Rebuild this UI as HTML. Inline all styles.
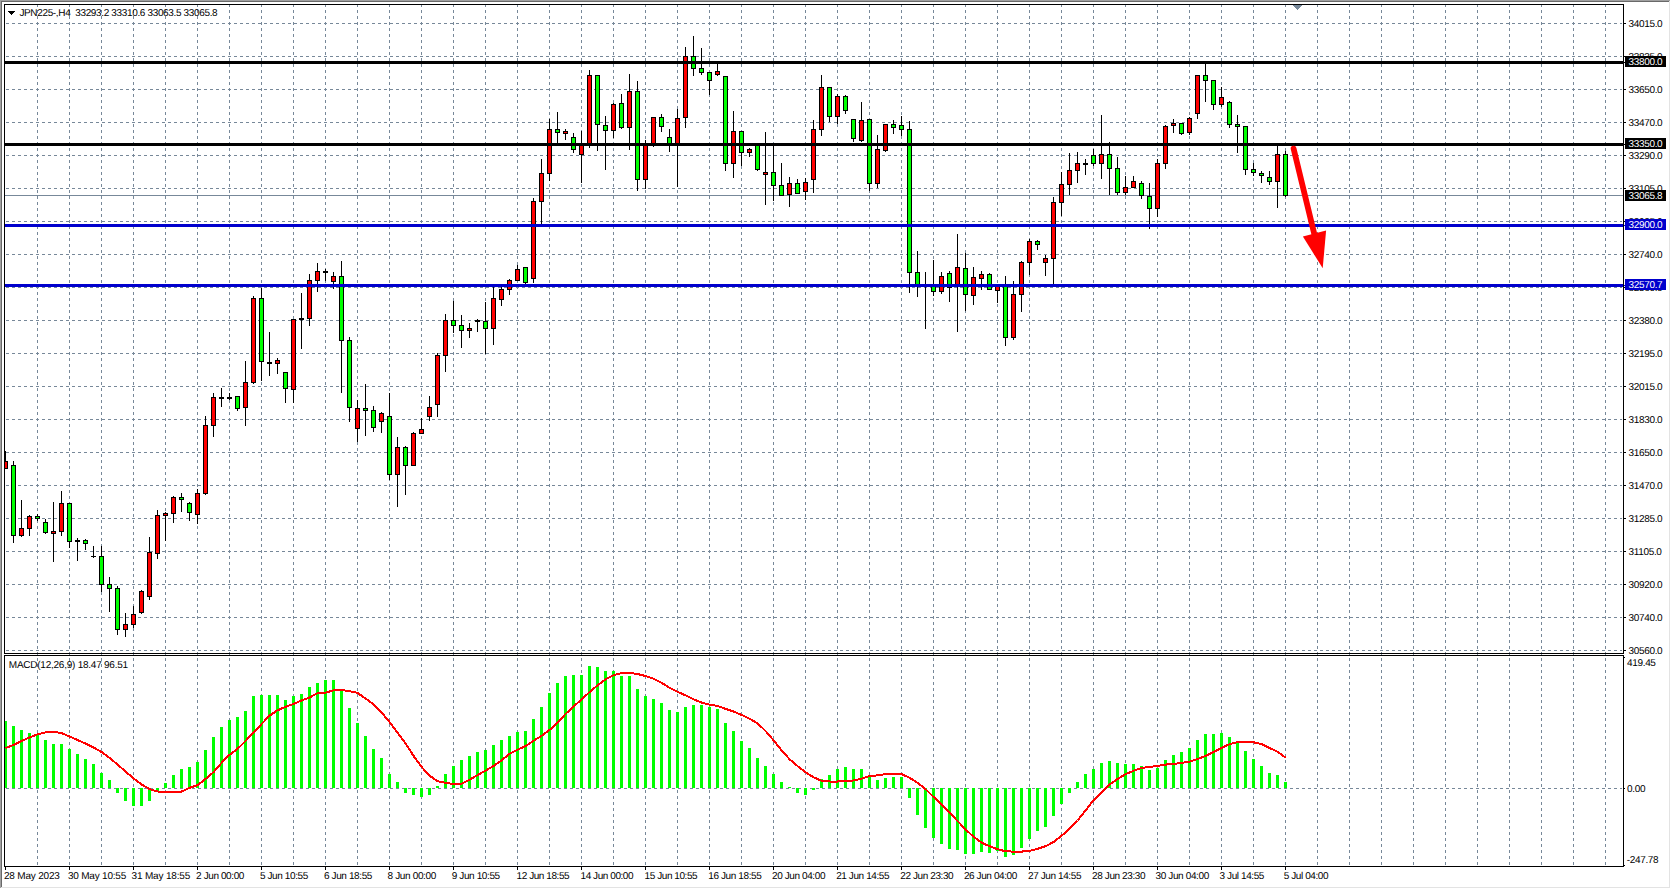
<!DOCTYPE html><html><head><meta charset="utf-8"><title>JPN225 H4</title>
<style>html,body{margin:0;padding:0;background:#fff;overflow:hidden}svg{display:block}text{font-family:"Liberation Sans",sans-serif;font-size:10px;letter-spacing:-0.35px;text-rendering:geometricPrecision}</style></head><body>
<svg width="1671" height="889" viewBox="0 0 1671 889">
<defs><clipPath id="cm"><rect x="5" y="5" width="1618" height="648"/></clipPath><clipPath id="cd"><rect x="5" y="656" width="1618" height="210"/></clipPath><clipPath id="cg"><rect x="5" y="5" width="1618" height="861"/></clipPath></defs>
<rect width="1671" height="889" fill="#fff"/>
<rect x="0" y="0" width="1670" height="1" fill="#a0a0a0"/>
<rect x="0" y="0" width="1" height="888" fill="#a0a0a0"/>
<rect x="1" y="1" width="1668" height="1" fill="#696969"/>
<rect x="1" y="1" width="1" height="886" fill="#696969"/>
<rect x="1669" y="1" width="1" height="887" fill="#e3e3e3"/>
<rect x="1" y="887" width="1669" height="1" fill="#e3e3e3"/>
<g clip-path="url(#cg)" shape-rendering="crispEdges" stroke="#778899" stroke-width="1" stroke-dasharray="3 3" fill="none">
<line x1="37.5" y1="4" x2="37.5" y2="866"/>
<line x1="69.5" y1="4" x2="69.5" y2="866"/>
<line x1="101.5" y1="4" x2="101.5" y2="866"/>
<line x1="133.5" y1="4" x2="133.5" y2="866"/>
<line x1="165.5" y1="4" x2="165.5" y2="866"/>
<line x1="197.5" y1="4" x2="197.5" y2="866"/>
<line x1="229.5" y1="4" x2="229.5" y2="866"/>
<line x1="261.5" y1="4" x2="261.5" y2="866"/>
<line x1="293.5" y1="4" x2="293.5" y2="866"/>
<line x1="325.5" y1="4" x2="325.5" y2="866"/>
<line x1="357.5" y1="4" x2="357.5" y2="866"/>
<line x1="389.5" y1="4" x2="389.5" y2="866"/>
<line x1="421.5" y1="4" x2="421.5" y2="866"/>
<line x1="453.5" y1="4" x2="453.5" y2="866"/>
<line x1="485.5" y1="4" x2="485.5" y2="866"/>
<line x1="517.5" y1="4" x2="517.5" y2="866"/>
<line x1="549.5" y1="4" x2="549.5" y2="866"/>
<line x1="581.5" y1="4" x2="581.5" y2="866"/>
<line x1="613.5" y1="4" x2="613.5" y2="866"/>
<line x1="645.5" y1="4" x2="645.5" y2="866"/>
<line x1="677.5" y1="4" x2="677.5" y2="866"/>
<line x1="709.5" y1="4" x2="709.5" y2="866"/>
<line x1="741.5" y1="4" x2="741.5" y2="866"/>
<line x1="773.5" y1="4" x2="773.5" y2="866"/>
<line x1="805.5" y1="4" x2="805.5" y2="866"/>
<line x1="837.5" y1="4" x2="837.5" y2="866"/>
<line x1="869.5" y1="4" x2="869.5" y2="866"/>
<line x1="901.5" y1="4" x2="901.5" y2="866"/>
<line x1="933.5" y1="4" x2="933.5" y2="866"/>
<line x1="965.5" y1="4" x2="965.5" y2="866"/>
<line x1="997.5" y1="4" x2="997.5" y2="866"/>
<line x1="1029.5" y1="4" x2="1029.5" y2="866"/>
<line x1="1061.5" y1="4" x2="1061.5" y2="866"/>
<line x1="1093.5" y1="4" x2="1093.5" y2="866"/>
<line x1="1125.5" y1="4" x2="1125.5" y2="866"/>
<line x1="1157.5" y1="4" x2="1157.5" y2="866"/>
<line x1="1189.5" y1="4" x2="1189.5" y2="866"/>
<line x1="1221.5" y1="4" x2="1221.5" y2="866"/>
<line x1="1253.5" y1="4" x2="1253.5" y2="866"/>
<line x1="1285.5" y1="4" x2="1285.5" y2="866"/>
<line x1="1317.5" y1="4" x2="1317.5" y2="866"/>
<line x1="1349.5" y1="4" x2="1349.5" y2="866"/>
<line x1="1381.5" y1="4" x2="1381.5" y2="866"/>
<line x1="1413.5" y1="4" x2="1413.5" y2="866"/>
<line x1="1445.5" y1="4" x2="1445.5" y2="866"/>
<line x1="1477.5" y1="4" x2="1477.5" y2="866"/>
<line x1="1509.5" y1="4" x2="1509.5" y2="866"/>
<line x1="1541.5" y1="4" x2="1541.5" y2="866"/>
<line x1="1573.5" y1="4" x2="1573.5" y2="866"/>
<line x1="1605.5" y1="4" x2="1605.5" y2="866"/>
<line x1="0" y1="23.5" x2="1622" y2="23.5"/>
<line x1="0" y1="56.5" x2="1622" y2="56.5"/>
<line x1="0" y1="89.5" x2="1622" y2="89.5"/>
<line x1="0" y1="122.5" x2="1622" y2="122.5"/>
<line x1="0" y1="155.5" x2="1622" y2="155.5"/>
<line x1="0" y1="188.5" x2="1622" y2="188.5"/>
<line x1="0" y1="221.5" x2="1622" y2="221.5"/>
<line x1="0" y1="254.5" x2="1622" y2="254.5"/>
<line x1="0" y1="287.5" x2="1622" y2="287.5"/>
<line x1="0" y1="320.5" x2="1622" y2="320.5"/>
<line x1="0" y1="353.5" x2="1622" y2="353.5"/>
<line x1="0" y1="386.5" x2="1622" y2="386.5"/>
<line x1="0" y1="419.5" x2="1622" y2="419.5"/>
<line x1="0" y1="452.5" x2="1622" y2="452.5"/>
<line x1="0" y1="485.5" x2="1622" y2="485.5"/>
<line x1="0" y1="518.5" x2="1622" y2="518.5"/>
<line x1="0" y1="551.5" x2="1622" y2="551.5"/>
<line x1="0" y1="584.5" x2="1622" y2="584.5"/>
<line x1="0" y1="617.5" x2="1622" y2="617.5"/>
<line x1="0" y1="650.5" x2="1622" y2="650.5"/>
<line x1="0" y1="788.5" x2="1622" y2="788.5"/>
</g>
<g clip-path="url(#cm)" shape-rendering="crispEdges">
<rect x="5" y="195" width="1618" height="1" fill="#778899"/>
<rect x="5" y="451" width="1" height="18" fill="#000"/>
<rect x="3" y="461" width="5" height="8" fill="#000"/>
<rect x="4" y="462" width="3" height="6" fill="#ff0000"/>
<rect x="13" y="461" width="1" height="82" fill="#000"/>
<rect x="11" y="465" width="5" height="71" fill="#000"/>
<rect x="12" y="466" width="3" height="69" fill="#00ff00"/>
<rect x="21" y="500" width="1" height="37" fill="#000"/>
<rect x="19" y="528" width="5" height="8" fill="#000"/>
<rect x="20" y="529" width="3" height="6" fill="#ff0000"/>
<rect x="29" y="515" width="1" height="21" fill="#000"/>
<rect x="27" y="516" width="5" height="13" fill="#000"/>
<rect x="28" y="517" width="3" height="11" fill="#ff0000"/>
<rect x="37" y="514" width="1" height="7" fill="#000"/>
<rect x="35" y="516" width="5" height="3" fill="#000"/>
<rect x="36" y="517" width="3" height="1" fill="#00ff00"/>
<rect x="45" y="519" width="1" height="15" fill="#000"/>
<rect x="43" y="522" width="5" height="11" fill="#000"/>
<rect x="44" y="523" width="3" height="9" fill="#00ff00"/>
<rect x="53" y="502" width="1" height="60" fill="#000"/>
<rect x="51" y="531" width="5" height="3" fill="#000"/>
<rect x="52" y="532" width="3" height="1" fill="#ff0000"/>
<rect x="61" y="491" width="1" height="45" fill="#000"/>
<rect x="59" y="503" width="5" height="29" fill="#000"/>
<rect x="60" y="504" width="3" height="27" fill="#ff0000"/>
<rect x="69" y="503" width="1" height="45" fill="#000"/>
<rect x="67" y="503" width="5" height="39" fill="#000"/>
<rect x="68" y="504" width="3" height="37" fill="#00ff00"/>
<rect x="77" y="538" width="1" height="23" fill="#000"/>
<rect x="75" y="540" width="5" height="2" fill="#000"/>
<rect x="85" y="539" width="1" height="11" fill="#000"/>
<rect x="83" y="540" width="5" height="4" fill="#000"/>
<rect x="84" y="541" width="3" height="2" fill="#00ff00"/>
<rect x="93" y="546" width="1" height="12" fill="#000"/>
<rect x="91" y="556" width="5" height="1" fill="#000"/>
<rect x="101" y="546" width="1" height="46" fill="#000"/>
<rect x="99" y="556" width="5" height="29" fill="#000"/>
<rect x="100" y="557" width="3" height="27" fill="#00ff00"/>
<rect x="109" y="577" width="1" height="35" fill="#000"/>
<rect x="107" y="584" width="5" height="5" fill="#000"/>
<rect x="108" y="585" width="3" height="3" fill="#00ff00"/>
<rect x="117" y="586" width="1" height="49" fill="#000"/>
<rect x="115" y="588" width="5" height="42" fill="#000"/>
<rect x="116" y="589" width="3" height="40" fill="#00ff00"/>
<rect x="125" y="613" width="1" height="24" fill="#000"/>
<rect x="123" y="624" width="5" height="6" fill="#000"/>
<rect x="124" y="625" width="3" height="4" fill="#ff0000"/>
<rect x="133" y="606" width="1" height="22" fill="#000"/>
<rect x="131" y="614" width="5" height="11" fill="#000"/>
<rect x="132" y="615" width="3" height="9" fill="#ff0000"/>
<rect x="141" y="590" width="1" height="24" fill="#000"/>
<rect x="139" y="591" width="5" height="22" fill="#000"/>
<rect x="140" y="592" width="3" height="20" fill="#ff0000"/>
<rect x="149" y="537" width="1" height="63" fill="#000"/>
<rect x="147" y="552" width="5" height="45" fill="#000"/>
<rect x="148" y="553" width="3" height="43" fill="#ff0000"/>
<rect x="157" y="510" width="1" height="49" fill="#000"/>
<rect x="155" y="515" width="5" height="39" fill="#000"/>
<rect x="156" y="516" width="3" height="37" fill="#ff0000"/>
<rect x="165" y="512" width="1" height="29" fill="#000"/>
<rect x="163" y="513" width="5" height="3" fill="#000"/>
<rect x="164" y="514" width="3" height="1" fill="#ff0000"/>
<rect x="173" y="496" width="1" height="27" fill="#000"/>
<rect x="171" y="497" width="5" height="17" fill="#000"/>
<rect x="172" y="498" width="3" height="15" fill="#ff0000"/>
<rect x="181" y="493" width="1" height="19" fill="#000"/>
<rect x="179" y="497" width="5" height="3" fill="#000"/>
<rect x="180" y="498" width="3" height="1" fill="#00ff00"/>
<rect x="189" y="502" width="1" height="19" fill="#000"/>
<rect x="187" y="503" width="5" height="10" fill="#000"/>
<rect x="188" y="504" width="3" height="8" fill="#00ff00"/>
<rect x="197" y="489" width="1" height="35" fill="#000"/>
<rect x="195" y="493" width="5" height="22" fill="#000"/>
<rect x="196" y="494" width="3" height="20" fill="#ff0000"/>
<rect x="205" y="416" width="1" height="79" fill="#000"/>
<rect x="203" y="425" width="5" height="69" fill="#000"/>
<rect x="204" y="426" width="3" height="67" fill="#ff0000"/>
<rect x="213" y="393" width="1" height="44" fill="#000"/>
<rect x="211" y="397" width="5" height="29" fill="#000"/>
<rect x="212" y="398" width="3" height="27" fill="#ff0000"/>
<rect x="221" y="388" width="1" height="19" fill="#000"/>
<rect x="219" y="397" width="5" height="2" fill="#000"/>
<rect x="229" y="393" width="1" height="7" fill="#000"/>
<rect x="227" y="397" width="5" height="2" fill="#000"/>
<rect x="237" y="396" width="1" height="15" fill="#000"/>
<rect x="235" y="396" width="5" height="13" fill="#000"/>
<rect x="236" y="397" width="3" height="11" fill="#00ff00"/>
<rect x="245" y="361" width="1" height="65" fill="#000"/>
<rect x="243" y="382" width="5" height="26" fill="#000"/>
<rect x="244" y="383" width="3" height="24" fill="#ff0000"/>
<rect x="253" y="296" width="1" height="88" fill="#000"/>
<rect x="251" y="298" width="5" height="85" fill="#000"/>
<rect x="252" y="299" width="3" height="83" fill="#ff0000"/>
<rect x="261" y="288" width="1" height="93" fill="#000"/>
<rect x="259" y="298" width="5" height="64" fill="#000"/>
<rect x="260" y="299" width="3" height="62" fill="#00ff00"/>
<rect x="269" y="332" width="1" height="44" fill="#000"/>
<rect x="267" y="362" width="5" height="2" fill="#000"/>
<rect x="277" y="358" width="1" height="16" fill="#000"/>
<rect x="275" y="360" width="5" height="4" fill="#000"/>
<rect x="276" y="361" width="3" height="2" fill="#ff0000"/>
<rect x="285" y="372" width="1" height="31" fill="#000"/>
<rect x="283" y="372" width="5" height="17" fill="#000"/>
<rect x="284" y="373" width="3" height="15" fill="#00ff00"/>
<rect x="293" y="319" width="1" height="84" fill="#000"/>
<rect x="291" y="319" width="5" height="71" fill="#000"/>
<rect x="292" y="320" width="3" height="69" fill="#ff0000"/>
<rect x="301" y="293" width="1" height="56" fill="#000"/>
<rect x="299" y="318" width="5" height="2" fill="#000"/>
<rect x="309" y="274" width="1" height="52" fill="#000"/>
<rect x="307" y="280" width="5" height="39" fill="#000"/>
<rect x="308" y="281" width="3" height="37" fill="#ff0000"/>
<rect x="317" y="263" width="1" height="29" fill="#000"/>
<rect x="315" y="271" width="5" height="10" fill="#000"/>
<rect x="316" y="272" width="3" height="8" fill="#ff0000"/>
<rect x="325" y="269" width="1" height="12" fill="#000"/>
<rect x="323" y="271" width="5" height="2" fill="#000"/>
<rect x="333" y="272" width="1" height="17" fill="#000"/>
<rect x="331" y="276" width="5" height="6" fill="#000"/>
<rect x="332" y="277" width="3" height="4" fill="#ff0000"/>
<rect x="341" y="261" width="1" height="132" fill="#000"/>
<rect x="339" y="276" width="5" height="65" fill="#000"/>
<rect x="340" y="277" width="3" height="63" fill="#00ff00"/>
<rect x="349" y="337" width="1" height="85" fill="#000"/>
<rect x="347" y="340" width="5" height="68" fill="#000"/>
<rect x="348" y="341" width="3" height="66" fill="#00ff00"/>
<rect x="357" y="400" width="1" height="42" fill="#000"/>
<rect x="355" y="408" width="5" height="21" fill="#000"/>
<rect x="356" y="409" width="3" height="19" fill="#ff0000"/>
<rect x="365" y="384" width="1" height="52" fill="#000"/>
<rect x="363" y="408" width="5" height="3" fill="#000"/>
<rect x="364" y="409" width="3" height="1" fill="#00ff00"/>
<rect x="373" y="406" width="1" height="26" fill="#000"/>
<rect x="371" y="410" width="5" height="18" fill="#000"/>
<rect x="372" y="411" width="3" height="16" fill="#00ff00"/>
<rect x="381" y="412" width="1" height="21" fill="#000"/>
<rect x="379" y="413" width="5" height="9" fill="#000"/>
<rect x="380" y="414" width="3" height="7" fill="#ff0000"/>
<rect x="389" y="393" width="1" height="87" fill="#000"/>
<rect x="387" y="416" width="5" height="59" fill="#000"/>
<rect x="388" y="417" width="3" height="57" fill="#00ff00"/>
<rect x="397" y="437" width="1" height="70" fill="#000"/>
<rect x="395" y="447" width="5" height="28" fill="#000"/>
<rect x="396" y="448" width="3" height="26" fill="#ff0000"/>
<rect x="405" y="446" width="1" height="49" fill="#000"/>
<rect x="403" y="447" width="5" height="19" fill="#000"/>
<rect x="404" y="448" width="3" height="17" fill="#00ff00"/>
<rect x="413" y="432" width="1" height="34" fill="#000"/>
<rect x="411" y="433" width="5" height="33" fill="#000"/>
<rect x="412" y="434" width="3" height="31" fill="#ff0000"/>
<rect x="421" y="418" width="1" height="16" fill="#000"/>
<rect x="419" y="429" width="5" height="5" fill="#000"/>
<rect x="420" y="430" width="3" height="3" fill="#ff0000"/>
<rect x="429" y="396" width="1" height="25" fill="#000"/>
<rect x="427" y="407" width="5" height="10" fill="#000"/>
<rect x="428" y="408" width="3" height="8" fill="#ff0000"/>
<rect x="437" y="353" width="1" height="64" fill="#000"/>
<rect x="435" y="355" width="5" height="50" fill="#000"/>
<rect x="436" y="356" width="3" height="48" fill="#ff0000"/>
<rect x="445" y="314" width="1" height="58" fill="#000"/>
<rect x="443" y="320" width="5" height="36" fill="#000"/>
<rect x="444" y="321" width="3" height="34" fill="#ff0000"/>
<rect x="453" y="301" width="1" height="32" fill="#000"/>
<rect x="451" y="320" width="5" height="6" fill="#000"/>
<rect x="452" y="321" width="3" height="4" fill="#00ff00"/>
<rect x="461" y="315" width="1" height="33" fill="#000"/>
<rect x="459" y="325" width="5" height="6" fill="#000"/>
<rect x="460" y="326" width="3" height="4" fill="#00ff00"/>
<rect x="469" y="323" width="1" height="15" fill="#000"/>
<rect x="467" y="328" width="5" height="3" fill="#000"/>
<rect x="468" y="329" width="3" height="1" fill="#ff0000"/>
<rect x="477" y="319" width="1" height="13" fill="#000"/>
<rect x="475" y="320" width="5" height="2" fill="#000"/>
<rect x="485" y="302" width="1" height="52" fill="#000"/>
<rect x="483" y="321" width="5" height="8" fill="#000"/>
<rect x="484" y="322" width="3" height="6" fill="#00ff00"/>
<rect x="493" y="286" width="1" height="59" fill="#000"/>
<rect x="491" y="298" width="5" height="31" fill="#000"/>
<rect x="492" y="299" width="3" height="29" fill="#ff0000"/>
<rect x="501" y="286" width="1" height="20" fill="#000"/>
<rect x="499" y="289" width="5" height="11" fill="#000"/>
<rect x="500" y="290" width="3" height="9" fill="#ff0000"/>
<rect x="509" y="279" width="1" height="16" fill="#000"/>
<rect x="507" y="280" width="5" height="10" fill="#000"/>
<rect x="508" y="281" width="3" height="8" fill="#ff0000"/>
<rect x="517" y="265" width="1" height="16" fill="#000"/>
<rect x="515" y="269" width="5" height="12" fill="#000"/>
<rect x="516" y="270" width="3" height="10" fill="#ff0000"/>
<rect x="525" y="267" width="1" height="17" fill="#000"/>
<rect x="523" y="267" width="5" height="16" fill="#000"/>
<rect x="524" y="268" width="3" height="14" fill="#00ff00"/>
<rect x="533" y="198" width="1" height="85" fill="#000"/>
<rect x="531" y="201" width="5" height="78" fill="#000"/>
<rect x="532" y="202" width="3" height="76" fill="#ff0000"/>
<rect x="541" y="159" width="1" height="65" fill="#000"/>
<rect x="539" y="173" width="5" height="29" fill="#000"/>
<rect x="540" y="174" width="3" height="27" fill="#ff0000"/>
<rect x="549" y="119" width="1" height="62" fill="#000"/>
<rect x="547" y="129" width="5" height="45" fill="#000"/>
<rect x="548" y="130" width="3" height="43" fill="#ff0000"/>
<rect x="557" y="112" width="1" height="31" fill="#000"/>
<rect x="555" y="129" width="5" height="4" fill="#000"/>
<rect x="556" y="130" width="3" height="2" fill="#00ff00"/>
<rect x="565" y="129" width="1" height="11" fill="#000"/>
<rect x="563" y="131" width="5" height="3" fill="#000"/>
<rect x="564" y="132" width="3" height="1" fill="#ff0000"/>
<rect x="573" y="133" width="1" height="20" fill="#000"/>
<rect x="571" y="137" width="5" height="13" fill="#000"/>
<rect x="572" y="138" width="3" height="11" fill="#00ff00"/>
<rect x="581" y="131" width="1" height="52" fill="#000"/>
<rect x="579" y="145" width="5" height="10" fill="#000"/>
<rect x="580" y="146" width="3" height="8" fill="#ff0000"/>
<rect x="589" y="70" width="1" height="78" fill="#000"/>
<rect x="587" y="75" width="5" height="69" fill="#000"/>
<rect x="588" y="76" width="3" height="67" fill="#ff0000"/>
<rect x="597" y="75" width="1" height="76" fill="#000"/>
<rect x="595" y="75" width="5" height="50" fill="#000"/>
<rect x="596" y="76" width="3" height="48" fill="#00ff00"/>
<rect x="605" y="116" width="1" height="54" fill="#000"/>
<rect x="603" y="125" width="5" height="6" fill="#000"/>
<rect x="604" y="126" width="3" height="4" fill="#00ff00"/>
<rect x="613" y="103" width="1" height="35" fill="#000"/>
<rect x="611" y="104" width="5" height="27" fill="#000"/>
<rect x="612" y="105" width="3" height="25" fill="#ff0000"/>
<rect x="621" y="94" width="1" height="35" fill="#000"/>
<rect x="619" y="103" width="5" height="25" fill="#000"/>
<rect x="620" y="104" width="3" height="23" fill="#00ff00"/>
<rect x="629" y="74" width="1" height="76" fill="#000"/>
<rect x="627" y="91" width="5" height="37" fill="#000"/>
<rect x="628" y="92" width="3" height="35" fill="#ff0000"/>
<rect x="637" y="81" width="1" height="110" fill="#000"/>
<rect x="635" y="91" width="5" height="89" fill="#000"/>
<rect x="636" y="92" width="3" height="87" fill="#00ff00"/>
<rect x="645" y="140" width="1" height="49" fill="#000"/>
<rect x="643" y="145" width="5" height="35" fill="#000"/>
<rect x="644" y="146" width="3" height="33" fill="#ff0000"/>
<rect x="653" y="117" width="1" height="30" fill="#000"/>
<rect x="651" y="117" width="5" height="28" fill="#000"/>
<rect x="652" y="118" width="3" height="26" fill="#ff0000"/>
<rect x="661" y="114" width="1" height="18" fill="#000"/>
<rect x="659" y="117" width="5" height="10" fill="#000"/>
<rect x="660" y="118" width="3" height="8" fill="#00ff00"/>
<rect x="669" y="129" width="1" height="23" fill="#000"/>
<rect x="667" y="137" width="5" height="7" fill="#000"/>
<rect x="668" y="138" width="3" height="5" fill="#00ff00"/>
<rect x="677" y="109" width="1" height="78" fill="#000"/>
<rect x="675" y="118" width="5" height="26" fill="#000"/>
<rect x="676" y="119" width="3" height="24" fill="#ff0000"/>
<rect x="685" y="47" width="1" height="81" fill="#000"/>
<rect x="683" y="56" width="5" height="62" fill="#000"/>
<rect x="684" y="57" width="3" height="60" fill="#ff0000"/>
<rect x="693" y="36" width="1" height="40" fill="#000"/>
<rect x="691" y="56" width="5" height="13" fill="#000"/>
<rect x="692" y="57" width="3" height="11" fill="#00ff00"/>
<rect x="701" y="48" width="1" height="27" fill="#000"/>
<rect x="699" y="68" width="5" height="5" fill="#000"/>
<rect x="700" y="69" width="3" height="3" fill="#00ff00"/>
<rect x="709" y="72" width="1" height="23" fill="#000"/>
<rect x="707" y="72" width="5" height="9" fill="#000"/>
<rect x="708" y="73" width="3" height="7" fill="#00ff00"/>
<rect x="717" y="64" width="1" height="12" fill="#000"/>
<rect x="715" y="71" width="5" height="4" fill="#000"/>
<rect x="716" y="72" width="3" height="2" fill="#ff0000"/>
<rect x="725" y="76" width="1" height="95" fill="#000"/>
<rect x="723" y="76" width="5" height="88" fill="#000"/>
<rect x="724" y="77" width="3" height="86" fill="#00ff00"/>
<rect x="733" y="111" width="1" height="67" fill="#000"/>
<rect x="731" y="131" width="5" height="33" fill="#000"/>
<rect x="732" y="132" width="3" height="31" fill="#ff0000"/>
<rect x="741" y="131" width="1" height="35" fill="#000"/>
<rect x="739" y="131" width="5" height="22" fill="#000"/>
<rect x="740" y="132" width="3" height="20" fill="#00ff00"/>
<rect x="749" y="148" width="1" height="9" fill="#000"/>
<rect x="747" y="149" width="5" height="4" fill="#000"/>
<rect x="748" y="150" width="3" height="2" fill="#ff0000"/>
<rect x="757" y="144" width="1" height="27" fill="#000"/>
<rect x="755" y="145" width="5" height="25" fill="#000"/>
<rect x="756" y="146" width="3" height="23" fill="#00ff00"/>
<rect x="765" y="132" width="1" height="73" fill="#000"/>
<rect x="763" y="172" width="5" height="3" fill="#000"/>
<rect x="764" y="173" width="3" height="1" fill="#ff0000"/>
<rect x="773" y="146" width="1" height="55" fill="#000"/>
<rect x="771" y="172" width="5" height="14" fill="#000"/>
<rect x="772" y="173" width="3" height="12" fill="#00ff00"/>
<rect x="781" y="163" width="1" height="33" fill="#000"/>
<rect x="779" y="185" width="5" height="11" fill="#000"/>
<rect x="780" y="186" width="3" height="9" fill="#00ff00"/>
<rect x="789" y="177" width="1" height="30" fill="#000"/>
<rect x="787" y="183" width="5" height="12" fill="#000"/>
<rect x="788" y="184" width="3" height="10" fill="#ff0000"/>
<rect x="797" y="179" width="1" height="15" fill="#000"/>
<rect x="795" y="183" width="5" height="11" fill="#000"/>
<rect x="796" y="184" width="3" height="9" fill="#00ff00"/>
<rect x="805" y="178" width="1" height="22" fill="#000"/>
<rect x="803" y="182" width="5" height="10" fill="#000"/>
<rect x="804" y="183" width="3" height="8" fill="#ff0000"/>
<rect x="813" y="120" width="1" height="73" fill="#000"/>
<rect x="811" y="129" width="5" height="51" fill="#000"/>
<rect x="812" y="130" width="3" height="49" fill="#ff0000"/>
<rect x="821" y="75" width="1" height="61" fill="#000"/>
<rect x="819" y="87" width="5" height="43" fill="#000"/>
<rect x="820" y="88" width="3" height="41" fill="#ff0000"/>
<rect x="829" y="87" width="1" height="35" fill="#000"/>
<rect x="827" y="87" width="5" height="30" fill="#000"/>
<rect x="828" y="88" width="3" height="28" fill="#00ff00"/>
<rect x="837" y="94" width="1" height="30" fill="#000"/>
<rect x="835" y="96" width="5" height="21" fill="#000"/>
<rect x="836" y="97" width="3" height="19" fill="#ff0000"/>
<rect x="845" y="95" width="1" height="19" fill="#000"/>
<rect x="843" y="96" width="5" height="15" fill="#000"/>
<rect x="844" y="97" width="3" height="13" fill="#00ff00"/>
<rect x="853" y="119" width="1" height="23" fill="#000"/>
<rect x="851" y="119" width="5" height="20" fill="#000"/>
<rect x="852" y="120" width="3" height="18" fill="#00ff00"/>
<rect x="861" y="102" width="1" height="40" fill="#000"/>
<rect x="859" y="120" width="5" height="21" fill="#000"/>
<rect x="860" y="121" width="3" height="19" fill="#ff0000"/>
<rect x="869" y="119" width="1" height="72" fill="#000"/>
<rect x="867" y="119" width="5" height="65" fill="#000"/>
<rect x="868" y="120" width="3" height="63" fill="#00ff00"/>
<rect x="877" y="135" width="1" height="53" fill="#000"/>
<rect x="875" y="149" width="5" height="35" fill="#000"/>
<rect x="876" y="150" width="3" height="33" fill="#ff0000"/>
<rect x="885" y="124" width="1" height="28" fill="#000"/>
<rect x="883" y="124" width="5" height="27" fill="#000"/>
<rect x="884" y="125" width="3" height="25" fill="#ff0000"/>
<rect x="893" y="120" width="1" height="14" fill="#000"/>
<rect x="891" y="124" width="5" height="4" fill="#000"/>
<rect x="892" y="125" width="3" height="2" fill="#00ff00"/>
<rect x="901" y="116" width="1" height="20" fill="#000"/>
<rect x="899" y="125" width="5" height="5" fill="#000"/>
<rect x="900" y="126" width="3" height="3" fill="#00ff00"/>
<rect x="909" y="121" width="1" height="172" fill="#000"/>
<rect x="907" y="129" width="5" height="144" fill="#000"/>
<rect x="908" y="130" width="3" height="142" fill="#00ff00"/>
<rect x="917" y="251" width="1" height="46" fill="#000"/>
<rect x="915" y="272" width="5" height="14" fill="#000"/>
<rect x="916" y="273" width="3" height="12" fill="#00ff00"/>
<rect x="925" y="272" width="1" height="57" fill="#000"/>
<rect x="923" y="285" width="5" height="2" fill="#000"/>
<rect x="933" y="260" width="1" height="36" fill="#000"/>
<rect x="931" y="285" width="5" height="7" fill="#000"/>
<rect x="932" y="286" width="3" height="5" fill="#00ff00"/>
<rect x="941" y="272" width="1" height="22" fill="#000"/>
<rect x="939" y="276" width="5" height="16" fill="#000"/>
<rect x="940" y="277" width="3" height="14" fill="#ff0000"/>
<rect x="949" y="271" width="1" height="31" fill="#000"/>
<rect x="947" y="273" width="5" height="15" fill="#000"/>
<rect x="948" y="274" width="3" height="13" fill="#00ff00"/>
<rect x="957" y="234" width="1" height="98" fill="#000"/>
<rect x="955" y="267" width="5" height="19" fill="#000"/>
<rect x="956" y="268" width="3" height="17" fill="#ff0000"/>
<rect x="965" y="253" width="1" height="58" fill="#000"/>
<rect x="963" y="268" width="5" height="27" fill="#000"/>
<rect x="964" y="269" width="3" height="25" fill="#00ff00"/>
<rect x="973" y="267" width="1" height="38" fill="#000"/>
<rect x="971" y="277" width="5" height="19" fill="#000"/>
<rect x="972" y="278" width="3" height="17" fill="#ff0000"/>
<rect x="981" y="271" width="1" height="19" fill="#000"/>
<rect x="979" y="274" width="5" height="5" fill="#000"/>
<rect x="980" y="275" width="3" height="3" fill="#ff0000"/>
<rect x="989" y="273" width="1" height="17" fill="#000"/>
<rect x="987" y="274" width="5" height="16" fill="#000"/>
<rect x="988" y="275" width="3" height="14" fill="#00ff00"/>
<rect x="997" y="284" width="1" height="19" fill="#000"/>
<rect x="995" y="286" width="5" height="5" fill="#000"/>
<rect x="996" y="287" width="3" height="3" fill="#ff0000"/>
<rect x="1005" y="276" width="1" height="70" fill="#000"/>
<rect x="1003" y="285" width="5" height="53" fill="#000"/>
<rect x="1004" y="286" width="3" height="51" fill="#00ff00"/>
<rect x="1013" y="281" width="1" height="59" fill="#000"/>
<rect x="1011" y="294" width="5" height="44" fill="#000"/>
<rect x="1012" y="295" width="3" height="42" fill="#ff0000"/>
<rect x="1021" y="261" width="1" height="51" fill="#000"/>
<rect x="1019" y="262" width="5" height="33" fill="#000"/>
<rect x="1020" y="263" width="3" height="31" fill="#ff0000"/>
<rect x="1029" y="239" width="1" height="36" fill="#000"/>
<rect x="1027" y="241" width="5" height="22" fill="#000"/>
<rect x="1028" y="242" width="3" height="20" fill="#ff0000"/>
<rect x="1037" y="240" width="1" height="10" fill="#000"/>
<rect x="1035" y="241" width="5" height="4" fill="#000"/>
<rect x="1036" y="242" width="3" height="2" fill="#00ff00"/>
<rect x="1045" y="255" width="1" height="21" fill="#000"/>
<rect x="1043" y="258" width="5" height="5" fill="#000"/>
<rect x="1044" y="259" width="3" height="3" fill="#ff0000"/>
<rect x="1053" y="197" width="1" height="87" fill="#000"/>
<rect x="1051" y="202" width="5" height="57" fill="#000"/>
<rect x="1052" y="203" width="3" height="55" fill="#ff0000"/>
<rect x="1061" y="172" width="1" height="44" fill="#000"/>
<rect x="1059" y="184" width="5" height="19" fill="#000"/>
<rect x="1060" y="185" width="3" height="17" fill="#ff0000"/>
<rect x="1069" y="153" width="1" height="42" fill="#000"/>
<rect x="1067" y="170" width="5" height="15" fill="#000"/>
<rect x="1068" y="171" width="3" height="13" fill="#ff0000"/>
<rect x="1077" y="152" width="1" height="31" fill="#000"/>
<rect x="1075" y="163" width="5" height="8" fill="#000"/>
<rect x="1076" y="164" width="3" height="6" fill="#ff0000"/>
<rect x="1085" y="159" width="1" height="16" fill="#000"/>
<rect x="1083" y="163" width="5" height="2" fill="#000"/>
<rect x="1093" y="149" width="1" height="17" fill="#000"/>
<rect x="1091" y="155" width="5" height="9" fill="#000"/>
<rect x="1092" y="156" width="3" height="7" fill="#00ff00"/>
<rect x="1101" y="115" width="1" height="64" fill="#000"/>
<rect x="1099" y="154" width="5" height="10" fill="#000"/>
<rect x="1100" y="155" width="3" height="8" fill="#ff0000"/>
<rect x="1109" y="142" width="1" height="53" fill="#000"/>
<rect x="1107" y="154" width="5" height="15" fill="#000"/>
<rect x="1108" y="155" width="3" height="13" fill="#00ff00"/>
<rect x="1117" y="157" width="1" height="38" fill="#000"/>
<rect x="1115" y="168" width="5" height="25" fill="#000"/>
<rect x="1116" y="169" width="3" height="23" fill="#00ff00"/>
<rect x="1125" y="176" width="1" height="19" fill="#000"/>
<rect x="1123" y="187" width="5" height="6" fill="#000"/>
<rect x="1124" y="188" width="3" height="4" fill="#ff0000"/>
<rect x="1133" y="176" width="1" height="12" fill="#000"/>
<rect x="1131" y="181" width="5" height="7" fill="#000"/>
<rect x="1132" y="182" width="3" height="5" fill="#ff0000"/>
<rect x="1141" y="181" width="1" height="18" fill="#000"/>
<rect x="1139" y="183" width="5" height="13" fill="#000"/>
<rect x="1140" y="184" width="3" height="11" fill="#00ff00"/>
<rect x="1149" y="183" width="1" height="46" fill="#000"/>
<rect x="1147" y="196" width="5" height="13" fill="#000"/>
<rect x="1148" y="197" width="3" height="11" fill="#00ff00"/>
<rect x="1157" y="159" width="1" height="58" fill="#000"/>
<rect x="1155" y="163" width="5" height="46" fill="#000"/>
<rect x="1156" y="164" width="3" height="44" fill="#ff0000"/>
<rect x="1165" y="125" width="1" height="44" fill="#000"/>
<rect x="1163" y="126" width="5" height="38" fill="#000"/>
<rect x="1164" y="127" width="3" height="36" fill="#ff0000"/>
<rect x="1173" y="119" width="1" height="14" fill="#000"/>
<rect x="1171" y="123" width="5" height="3" fill="#000"/>
<rect x="1172" y="124" width="3" height="1" fill="#ff0000"/>
<rect x="1181" y="123" width="1" height="12" fill="#000"/>
<rect x="1179" y="123" width="5" height="11" fill="#000"/>
<rect x="1180" y="124" width="3" height="9" fill="#00ff00"/>
<rect x="1189" y="117" width="1" height="18" fill="#000"/>
<rect x="1187" y="118" width="5" height="15" fill="#000"/>
<rect x="1188" y="119" width="3" height="13" fill="#ff0000"/>
<rect x="1197" y="75" width="1" height="44" fill="#000"/>
<rect x="1195" y="75" width="5" height="39" fill="#000"/>
<rect x="1196" y="76" width="3" height="37" fill="#ff0000"/>
<rect x="1205" y="64" width="1" height="38" fill="#000"/>
<rect x="1203" y="75" width="5" height="6" fill="#000"/>
<rect x="1204" y="76" width="3" height="4" fill="#00ff00"/>
<rect x="1213" y="80" width="1" height="30" fill="#000"/>
<rect x="1211" y="80" width="5" height="25" fill="#000"/>
<rect x="1212" y="81" width="3" height="23" fill="#00ff00"/>
<rect x="1221" y="87" width="1" height="20" fill="#000"/>
<rect x="1219" y="97" width="5" height="8" fill="#000"/>
<rect x="1220" y="98" width="3" height="6" fill="#ff0000"/>
<rect x="1229" y="101" width="1" height="27" fill="#000"/>
<rect x="1227" y="102" width="5" height="23" fill="#000"/>
<rect x="1228" y="103" width="3" height="21" fill="#00ff00"/>
<rect x="1237" y="115" width="1" height="38" fill="#000"/>
<rect x="1235" y="124" width="5" height="3" fill="#000"/>
<rect x="1236" y="125" width="3" height="1" fill="#00ff00"/>
<rect x="1245" y="126" width="1" height="49" fill="#000"/>
<rect x="1243" y="126" width="5" height="44" fill="#000"/>
<rect x="1244" y="127" width="3" height="42" fill="#00ff00"/>
<rect x="1253" y="163" width="1" height="13" fill="#000"/>
<rect x="1251" y="169" width="5" height="4" fill="#000"/>
<rect x="1252" y="170" width="3" height="2" fill="#00ff00"/>
<rect x="1261" y="171" width="1" height="12" fill="#000"/>
<rect x="1259" y="173" width="5" height="3" fill="#000"/>
<rect x="1260" y="174" width="3" height="1" fill="#00ff00"/>
<rect x="1269" y="171" width="1" height="14" fill="#000"/>
<rect x="1267" y="177" width="5" height="5" fill="#000"/>
<rect x="1268" y="178" width="3" height="3" fill="#00ff00"/>
<rect x="1277" y="146" width="1" height="62" fill="#000"/>
<rect x="1275" y="154" width="5" height="28" fill="#000"/>
<rect x="1276" y="155" width="3" height="26" fill="#ff0000"/>
<rect x="1285" y="151" width="1" height="46" fill="#000"/>
<rect x="1283" y="154" width="5" height="42" fill="#000"/>
<rect x="1284" y="155" width="3" height="40" fill="#00ff00"/>
<rect x="5" y="61" width="1618" height="3" fill="#000"/>
<rect x="5" y="143" width="1618" height="3" fill="#000"/>
<rect x="5" y="224" width="1618" height="3" fill="#0000cd"/>
<rect x="5" y="284" width="1618" height="3" fill="#0000cd"/>
</g>
<g fill="#ff0000" stroke="none">
<line x1="1293.6" y1="148.6" x2="1314.4" y2="234.5" stroke="#ff0000" stroke-width="5.8" stroke-linecap="round"/>
<polygon points="1302.9,236.6 1326.1,230.6 1322.7,268.2"/>
</g>
<g clip-path="url(#cd)" shape-rendering="crispEdges" fill="#00ff00">
<rect x="4" y="721" width="3" height="67"/>
<rect x="12" y="726" width="3" height="62"/>
<rect x="20" y="730" width="3" height="58"/>
<rect x="28" y="733" width="3" height="55"/>
<rect x="36" y="735" width="3" height="53"/>
<rect x="44" y="740" width="3" height="48"/>
<rect x="52" y="744" width="3" height="44"/>
<rect x="60" y="744" width="3" height="44"/>
<rect x="68" y="749" width="3" height="39"/>
<rect x="76" y="754" width="3" height="34"/>
<rect x="84" y="759" width="3" height="29"/>
<rect x="92" y="764" width="3" height="24"/>
<rect x="100" y="773" width="3" height="15"/>
<rect x="108" y="780" width="3" height="8"/>
<rect x="116" y="788" width="3" height="5"/>
<rect x="124" y="788" width="3" height="13"/>
<rect x="132" y="788" width="3" height="18"/>
<rect x="140" y="788" width="3" height="18"/>
<rect x="148" y="788" width="3" height="13"/>
<rect x="156" y="788" width="3" height="4"/>
<rect x="164" y="783" width="3" height="5"/>
<rect x="172" y="775" width="3" height="13"/>
<rect x="180" y="769" width="3" height="19"/>
<rect x="188" y="767" width="3" height="21"/>
<rect x="196" y="762" width="3" height="26"/>
<rect x="204" y="750" width="3" height="38"/>
<rect x="212" y="737" width="3" height="51"/>
<rect x="220" y="727" width="3" height="61"/>
<rect x="228" y="720" width="3" height="68"/>
<rect x="236" y="717" width="3" height="71"/>
<rect x="244" y="711" width="3" height="77"/>
<rect x="252" y="696" width="3" height="92"/>
<rect x="260" y="695" width="3" height="93"/>
<rect x="268" y="695" width="3" height="93"/>
<rect x="276" y="695" width="3" height="93"/>
<rect x="284" y="700" width="3" height="88"/>
<rect x="292" y="696" width="3" height="92"/>
<rect x="300" y="694" width="3" height="94"/>
<rect x="308" y="687" width="3" height="101"/>
<rect x="316" y="683" width="3" height="105"/>
<rect x="324" y="680" width="3" height="108"/>
<rect x="332" y="680" width="3" height="108"/>
<rect x="340" y="689" width="3" height="99"/>
<rect x="348" y="708" width="3" height="80"/>
<rect x="356" y="723" width="3" height="65"/>
<rect x="364" y="736" width="3" height="52"/>
<rect x="372" y="749" width="3" height="39"/>
<rect x="380" y="758" width="3" height="30"/>
<rect x="388" y="774" width="3" height="14"/>
<rect x="396" y="782" width="3" height="6"/>
<rect x="404" y="788" width="3" height="5"/>
<rect x="412" y="788" width="3" height="7"/>
<rect x="420" y="788" width="3" height="9"/>
<rect x="428" y="788" width="3" height="7"/>
<rect x="436" y="786" width="3" height="2"/>
<rect x="444" y="774" width="3" height="14"/>
<rect x="452" y="766" width="3" height="22"/>
<rect x="460" y="760" width="3" height="28"/>
<rect x="468" y="756" width="3" height="32"/>
<rect x="476" y="752" width="3" height="36"/>
<rect x="484" y="750" width="3" height="38"/>
<rect x="492" y="745" width="3" height="43"/>
<rect x="500" y="740" width="3" height="48"/>
<rect x="508" y="736" width="3" height="52"/>
<rect x="516" y="732" width="3" height="56"/>
<rect x="524" y="731" width="3" height="57"/>
<rect x="532" y="719" width="3" height="69"/>
<rect x="540" y="707" width="3" height="81"/>
<rect x="548" y="693" width="3" height="95"/>
<rect x="556" y="683" width="3" height="105"/>
<rect x="564" y="676" width="3" height="112"/>
<rect x="572" y="675" width="3" height="113"/>
<rect x="580" y="675" width="3" height="113"/>
<rect x="588" y="666" width="3" height="122"/>
<rect x="596" y="667" width="3" height="121"/>
<rect x="604" y="671" width="3" height="117"/>
<rect x="612" y="671" width="3" height="117"/>
<rect x="620" y="676" width="3" height="112"/>
<rect x="628" y="676" width="3" height="112"/>
<rect x="636" y="689" width="3" height="99"/>
<rect x="644" y="696" width="3" height="92"/>
<rect x="652" y="699" width="3" height="89"/>
<rect x="660" y="703" width="3" height="85"/>
<rect x="668" y="710" width="3" height="78"/>
<rect x="676" y="712" width="3" height="76"/>
<rect x="684" y="707" width="3" height="81"/>
<rect x="692" y="705" width="3" height="83"/>
<rect x="700" y="705" width="3" height="83"/>
<rect x="708" y="707" width="3" height="81"/>
<rect x="716" y="709" width="3" height="79"/>
<rect x="724" y="723" width="3" height="65"/>
<rect x="732" y="731" width="3" height="57"/>
<rect x="740" y="741" width="3" height="47"/>
<rect x="748" y="748" width="3" height="40"/>
<rect x="756" y="758" width="3" height="30"/>
<rect x="764" y="766" width="3" height="22"/>
<rect x="772" y="774" width="3" height="14"/>
<rect x="780" y="782" width="3" height="6"/>
<rect x="788" y="787" width="3" height="1"/>
<rect x="796" y="788" width="3" height="5"/>
<rect x="804" y="788" width="3" height="7"/>
<rect x="812" y="788" width="3" height="2"/>
<rect x="820" y="779" width="3" height="9"/>
<rect x="828" y="775" width="3" height="13"/>
<rect x="836" y="769" width="3" height="19"/>
<rect x="844" y="767" width="3" height="21"/>
<rect x="852" y="769" width="3" height="19"/>
<rect x="860" y="769" width="3" height="19"/>
<rect x="868" y="777" width="3" height="11"/>
<rect x="876" y="780" width="3" height="8"/>
<rect x="884" y="778" width="3" height="10"/>
<rect x="892" y="777" width="3" height="11"/>
<rect x="900" y="777" width="3" height="11"/>
<rect x="908" y="788" width="3" height="10"/>
<rect x="916" y="788" width="3" height="27"/>
<rect x="924" y="788" width="3" height="40"/>
<rect x="932" y="788" width="3" height="50"/>
<rect x="940" y="788" width="3" height="56"/>
<rect x="948" y="788" width="3" height="61"/>
<rect x="956" y="788" width="3" height="62"/>
<rect x="964" y="788" width="3" height="66"/>
<rect x="972" y="788" width="3" height="66"/>
<rect x="980" y="788" width="3" height="64"/>
<rect x="988" y="788" width="3" height="65"/>
<rect x="996" y="788" width="3" height="63"/>
<rect x="1004" y="788" width="3" height="69"/>
<rect x="1012" y="788" width="3" height="67"/>
<rect x="1020" y="788" width="3" height="60"/>
<rect x="1028" y="788" width="3" height="51"/>
<rect x="1036" y="788" width="3" height="43"/>
<rect x="1044" y="788" width="3" height="39"/>
<rect x="1052" y="788" width="3" height="28"/>
<rect x="1060" y="788" width="3" height="16"/>
<rect x="1068" y="788" width="3" height="5"/>
<rect x="1076" y="782" width="3" height="6"/>
<rect x="1084" y="774" width="3" height="14"/>
<rect x="1092" y="769" width="3" height="19"/>
<rect x="1100" y="763" width="3" height="25"/>
<rect x="1108" y="761" width="3" height="27"/>
<rect x="1116" y="763" width="3" height="25"/>
<rect x="1124" y="764" width="3" height="24"/>
<rect x="1132" y="764" width="3" height="24"/>
<rect x="1140" y="766" width="3" height="22"/>
<rect x="1148" y="770" width="3" height="18"/>
<rect x="1156" y="768" width="3" height="20"/>
<rect x="1164" y="760" width="3" height="28"/>
<rect x="1172" y="755" width="3" height="33"/>
<rect x="1180" y="752" width="3" height="36"/>
<rect x="1188" y="748" width="3" height="40"/>
<rect x="1196" y="740" width="3" height="48"/>
<rect x="1204" y="734" width="3" height="54"/>
<rect x="1212" y="734" width="3" height="54"/>
<rect x="1220" y="733" width="3" height="55"/>
<rect x="1228" y="737" width="3" height="51"/>
<rect x="1236" y="741" width="3" height="47"/>
<rect x="1244" y="751" width="3" height="37"/>
<rect x="1252" y="759" width="3" height="29"/>
<rect x="1260" y="766" width="3" height="22"/>
<rect x="1268" y="773" width="3" height="15"/>
<rect x="1276" y="775" width="3" height="13"/>
<rect x="1284" y="782" width="3" height="6"/>
</g>
<g clip-path="url(#cd)"><polyline points="5.5,748.0 13.5,745.0 21.5,741.0 29.5,737.5 37.5,734.4 45.5,732.4 53.5,732.0 61.5,733.0 69.5,736.5 77.5,740.0 85.5,743.5 93.5,747.5 101.5,752.0 109.5,757.8 117.5,764.5 125.5,771.6 133.5,778.3 141.5,784.4 149.5,789.1 157.5,791.5 165.5,791.8 173.5,792.0 181.5,791.6 189.5,787.9 197.5,785.2 205.5,779.0 213.5,772.2 221.5,762.9 229.5,754.8 237.5,748.9 245.5,741.0 253.5,732.5 261.5,724.1 269.5,715.7 277.5,710.3 285.5,706.9 293.5,703.9 301.5,700.5 309.5,697.5 317.5,693.2 325.5,692.6 333.5,690.4 341.5,690.0 349.5,691.2 357.5,692.9 365.5,698.5 373.5,704.2 381.5,712.3 389.5,722.0 397.5,732.5 405.5,743.5 413.5,755.8 421.5,766.8 429.5,775.6 437.5,781.2 445.5,782.9 453.5,784.0 461.5,783.7 469.5,779.8 477.5,775.1 485.5,770.7 493.5,766.0 501.5,760.4 509.5,753.7 517.5,749.8 525.5,746.1 533.5,740.7 541.5,735.9 549.5,730.0 557.5,722.8 565.5,714.0 573.5,706.4 581.5,699.7 589.5,692.1 597.5,685.3 605.5,679.4 613.5,675.2 621.5,673.2 629.5,672.8 637.5,674.0 645.5,676.0 653.5,678.6 661.5,682.8 669.5,687.8 677.5,691.7 685.5,695.4 693.5,699.2 701.5,702.5 709.5,704.7 717.5,705.9 725.5,708.9 733.5,711.5 741.5,714.9 749.5,718.7 757.5,723.3 765.5,730.9 773.5,740.2 781.5,750.3 789.5,759.2 797.5,766.0 805.5,772.2 813.5,777.3 821.5,780.7 829.5,781.5 837.5,781.5 845.5,781.2 853.5,780.5 861.5,778.7 869.5,776.1 877.5,775.4 885.5,774.1 893.5,773.8 901.5,774.1 909.5,777.7 917.5,782.8 925.5,789.1 933.5,796.9 941.5,804.3 949.5,812.7 957.5,821.0 965.5,829.2 973.5,836.8 981.5,842.6 989.5,846.2 997.5,849.2 1005.5,851.3 1013.5,851.6 1021.5,851.6 1029.5,850.8 1037.5,848.9 1045.5,846.2 1053.5,842.1 1061.5,835.8 1069.5,828.9 1077.5,820.5 1085.5,810.5 1093.5,800.3 1101.5,792.8 1109.5,784.5 1117.5,779.0 1125.5,774.2 1133.5,770.8 1141.5,768.0 1149.5,766.9 1157.5,765.9 1165.5,764.6 1173.5,763.9 1181.5,762.9 1189.5,761.8 1197.5,759.0 1205.5,756.0 1213.5,751.9 1221.5,748.0 1229.5,744.2 1237.5,742.0 1245.5,742.0 1253.5,742.3 1261.5,744.0 1269.5,748.0 1277.5,751.7 1285.5,757.7" fill="none" stroke="#ff0000" stroke-width="2" stroke-linejoin="round" shape-rendering="crispEdges"/></g>
<g shape-rendering="crispEdges" fill="#000">
<rect x="4" y="4" width="1620" height="1"/>
<rect x="4" y="653" width="1620" height="1"/>
<rect x="4" y="4" width="1" height="650"/>
<rect x="1623" y="4" width="1" height="650"/>
<rect x="4" y="655" width="1620" height="1"/>
<rect x="4" y="866" width="1620" height="1"/>
<rect x="4" y="655" width="1" height="212"/>
<rect x="1623" y="655" width="1" height="212"/>
<rect x="1624" y="23" width="2" height="1"/>
<rect x="1624" y="56" width="2" height="1"/>
<rect x="1624" y="89" width="2" height="1"/>
<rect x="1624" y="122" width="2" height="1"/>
<rect x="1624" y="155" width="2" height="1"/>
<rect x="1624" y="188" width="2" height="1"/>
<rect x="1624" y="221" width="2" height="1"/>
<rect x="1624" y="254" width="2" height="1"/>
<rect x="1624" y="287" width="2" height="1"/>
<rect x="1624" y="320" width="2" height="1"/>
<rect x="1624" y="353" width="2" height="1"/>
<rect x="1624" y="386" width="2" height="1"/>
<rect x="1624" y="419" width="2" height="1"/>
<rect x="1624" y="452" width="2" height="1"/>
<rect x="1624" y="485" width="2" height="1"/>
<rect x="1624" y="518" width="2" height="1"/>
<rect x="1624" y="551" width="2" height="1"/>
<rect x="1624" y="584" width="2" height="1"/>
<rect x="1624" y="617" width="2" height="1"/>
<rect x="1624" y="650" width="2" height="1"/>
<rect x="1624" y="657" width="1" height="1"/>
<rect x="1624" y="788" width="1" height="1"/>
<rect x="1624" y="865" width="1" height="1"/>
<rect x="5" y="867" width="1" height="3"/>
<rect x="69" y="867" width="1" height="3"/>
<rect x="133" y="867" width="1" height="3"/>
<rect x="197" y="867" width="1" height="3"/>
<rect x="261" y="867" width="1" height="3"/>
<rect x="325" y="867" width="1" height="3"/>
<rect x="389" y="867" width="1" height="3"/>
<rect x="453" y="867" width="1" height="3"/>
<rect x="517" y="867" width="1" height="3"/>
<rect x="581" y="867" width="1" height="3"/>
<rect x="645" y="867" width="1" height="3"/>
<rect x="709" y="867" width="1" height="3"/>
<rect x="773" y="867" width="1" height="3"/>
<rect x="837" y="867" width="1" height="3"/>
<rect x="901" y="867" width="1" height="3"/>
<rect x="965" y="867" width="1" height="3"/>
<rect x="1029" y="867" width="1" height="3"/>
<rect x="1093" y="867" width="1" height="3"/>
<rect x="1157" y="867" width="1" height="3"/>
<rect x="1221" y="867" width="1" height="3"/>
<rect x="1285" y="867" width="1" height="3"/>
</g>
<g shape-rendering="crispEdges" fill="#000"><rect x="8" y="11" width="7" height="1"/><rect x="9" y="12" width="5" height="1"/><rect x="10" y="13" width="3" height="1"/><rect x="11" y="14" width="1" height="1"/></g>
<g shape-rendering="crispEdges" fill="#778899"><rect x="1293" y="5" width="9" height="1"/><rect x="1294" y="6" width="7" height="1"/><rect x="1295" y="7" width="5" height="1"/><rect x="1296" y="8" width="3" height="1"/><rect x="1297" y="9" width="1" height="1"/></g>
<g fill="#000">
<text x="1628.6" y="27">34015.0</text>
<text x="1628.6" y="60">33835.0</text>
<text x="1628.6" y="93">33650.0</text>
<text x="1628.6" y="126">33470.0</text>
<text x="1628.6" y="159">33290.0</text>
<text x="1628.6" y="192">33105.0</text>
<text x="1628.6" y="225">32925.0</text>
<text x="1628.6" y="258">32740.0</text>
<text x="1628.6" y="291">32560.0</text>
<text x="1628.6" y="324">32380.0</text>
<text x="1628.6" y="357">32195.0</text>
<text x="1628.6" y="390">32015.0</text>
<text x="1628.6" y="423">31830.0</text>
<text x="1628.6" y="456">31650.0</text>
<text x="1628.6" y="489">31470.0</text>
<text x="1628.6" y="522">31285.0</text>
<text x="1628.6" y="555">31105.0</text>
<text x="1628.6" y="588">30920.0</text>
<text x="1628.6" y="621">30740.0</text>
<text x="1628.6" y="654">30560.0</text>
<text x="1627.1" y="666">419.45</text>
<text x="1627.1" y="792">0.00</text>
<text x="1626.8" y="863">-247.78</text>
<text x="4.00" y="879" style="letter-spacing:-0.190px">28 May 2023</text>
<text x="68.00" y="879" style="letter-spacing:-0.215px">30 May 10:55</text>
<text x="131.50" y="879" style="letter-spacing:-0.170px">31 May 18:55</text>
<text x="196.10" y="879" style="letter-spacing:-0.400px">2 Jun 00:00</text>
<text x="259.90" y="879" style="letter-spacing:-0.390px">5 Jun 10:55</text>
<text x="324.00" y="879" style="letter-spacing:-0.390px">6 Jun 18:55</text>
<text x="387.60" y="879" style="letter-spacing:-0.360px">8 Jun 00:00</text>
<text x="451.70" y="879" style="letter-spacing:-0.380px">9 Jun 10:55</text>
<text x="516.50" y="879" style="letter-spacing:-0.425px">12 Jun 18:55</text>
<text x="580.50" y="879" style="letter-spacing:-0.435px">14 Jun 00:00</text>
<text x="644.60" y="879" style="letter-spacing:-0.435px">15 Jun 10:55</text>
<text x="708.30" y="879" style="letter-spacing:-0.398px">16 Jun 18:55</text>
<text x="772.10" y="879" style="letter-spacing:-0.407px">20 Jun 04:00</text>
<text x="836.20" y="879" style="letter-spacing:-0.407px">21 Jun 14:55</text>
<text x="900.30" y="879" style="letter-spacing:-0.407px">22 Jun 23:30</text>
<text x="963.90" y="879" style="letter-spacing:-0.398px">26 Jun 04:00</text>
<text x="1028.00" y="879" style="letter-spacing:-0.398px">27 Jun 14:55</text>
<text x="1092.10" y="879" style="letter-spacing:-0.398px">28 Jun 23:30</text>
<text x="1155.50" y="879" style="letter-spacing:-0.371px">30 Jun 04:00</text>
<text x="1219.60" y="879" style="letter-spacing:-0.410px">3 Jul 14:55</text>
<text x="1283.70" y="879" style="letter-spacing:-0.410px">5 Jul 04:00</text>
<text x="19.4" y="16" xml:space="preserve">JPN225-,H4  33293.2 33310.6 33063.5 33065.8</text>
<text x="8.8" y="668" style="letter-spacing:-0.24px">MACD(12,26,9) 18.47 96.51</text>
</g>
<rect x="1624" y="62" width="1" height="1" fill="#000" shape-rendering="crispEdges"/>
<rect x="1624" y="144" width="1" height="1" fill="#000" shape-rendering="crispEdges"/>
<rect x="1624" y="225" width="1" height="1" fill="#0000cd" shape-rendering="crispEdges"/>
<rect x="1624" y="285" width="1" height="1" fill="#0000cd" shape-rendering="crispEdges"/>
<rect x="1625" y="56" width="41" height="11" fill="#000" shape-rendering="crispEdges"/>
<text x="1628.6" y="65" fill="#fff">33800.0</text>
<rect x="1625" y="138" width="41" height="11" fill="#000" shape-rendering="crispEdges"/>
<text x="1628.6" y="147" fill="#fff">33350.0</text>
<rect x="1625" y="190" width="41" height="11" fill="#000" shape-rendering="crispEdges"/>
<text x="1628.6" y="199" fill="#fff">33065.8</text>
<rect x="1625" y="219" width="41" height="11" fill="#0000cd" shape-rendering="crispEdges"/>
<text x="1628.6" y="228" fill="#fff">32900.0</text>
<rect x="1625" y="279" width="41" height="11" fill="#0000cd" shape-rendering="crispEdges"/>
<text x="1628.6" y="288" fill="#fff">32570.7</text>
</svg></body></html>
